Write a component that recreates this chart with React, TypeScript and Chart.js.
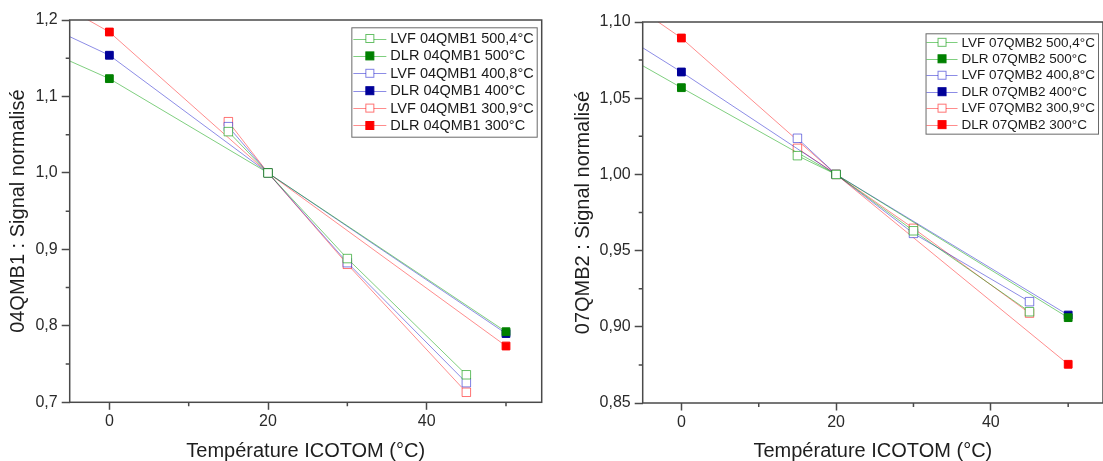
import React, { useEffect, useRef } from 'react';
import { Chart, registerables } from 'chart.js';

Chart.register(...registerables);

// ---------- data ----------
const tempLVF = [15, 20, 30, 45];
const tempDLR = [-10, 0, 20, 50];

// 04QMB1
const lvf04_500 = [1.054, 1.0, 0.888, 0.736];
const dlr04_500 = [1.1695, 1.1233, 1.0, 0.7923];
const lvf04_400 = [1.0605, 1.0, 0.8826, 0.7257];
const dlr04_400 = [1.2025, 1.1539, 1.0, 0.7900];
const lvf04_300 = [1.067, 1.0, 0.8805, 0.7131];
const dlr04_300 = [1.243, 1.1843, 1.0, 0.7736];

// 07QMB2
const lvf07_500 = [1.0123, 1.0, 0.963, 0.9099];
const dlr07_500 = [1.0857, 1.0569, 1.0, 0.906];
const lvf07_400 = [1.0237, 1.0, 0.9613, 0.9165];
const dlr07_400 = [1.099, 1.0672, 1.0, 0.9077];
const lvf07_300 = [1.0171, 1.0, 0.9646, 0.909];
const dlr07_300 = [1.1246, 1.0895, 1.0, 0.8754];

const labels04 = [
  'LVF 04QMB1 500,4°C',
  'DLR 04QMB1 500°C',
  'LVF 04QMB1 400,8°C',
  'DLR 04QMB1 400°C',
  'LVF 04QMB1 300,9°C',
  'DLR 04QMB1 300°C',
];
const labels07 = [
  'LVF 07QMB2 500,4°C',
  'DLR 07QMB2 500°C',
  'LVF 07QMB2 400,8°C',
  'DLR 07QMB2 400°C',
  'LVF 07QMB2 300,9°C',
  'DLR 07QMB2 300°C',
];

const xTicks = [0, 20, 40];
const xMinorTicks = [10, 30, 50];
const yTicks04 = [0.7, 0.8, 0.9, 1.0, 1.1, 1.2];
const yMinor04 = [0.75, 0.85, 0.95, 1.05, 1.15];
const yTicks07 = [0.85, 0.9, 0.95, 1.0, 1.05, 1.1];
const yMinor07 = [0.875, 0.925, 0.975, 1.025, 1.075];

const xTitle = 'Température ICOTOM (°C)';
const yTitle04 = '04QMB1 : Signal normalisé';
const yTitle07 = '07QMB2 : Signal normalisé';

// ---------- styles ----------
const FONT = '"Liberation Sans", Arial, sans-serif';
const AXIS = '#4a4a4a';
const styles = [
  { line: 'rgba(0,160,0,0.5)', edge: 'rgba(0,150,0,0.6)', fill: '#ffffff', r: 6 },
  { line: 'rgba(0,160,0,0.5)', edge: '#008000', fill: '#008000', r: 5.5 },
  { line: 'rgba(0,0,200,0.45)', edge: 'rgba(0,0,200,0.5)', fill: '#ffffff', r: 6 },
  { line: 'rgba(0,0,200,0.45)', edge: '#000099', fill: '#000099', r: 5.5 },
  { line: 'rgba(255,0,0,0.45)', edge: 'rgba(255,0,0,0.55)', fill: '#ffffff', r: 6 },
  { line: 'rgba(255,0,0,0.45)', edge: '#ff0000', fill: '#ff0000', r: 5.5 },
];

function buildDatasets(labels: string[], series: number[][]) {
  return series.map((ys, i) => {
    const xs = i % 2 === 0 ? tempLVF : tempDLR;
    const s = styles[i];
    return {
      label: labels[i],
      data: ys.map((y, k) => ({ x: xs[k], y })),
      borderColor: s.line,
      borderWidth: 1,
      backgroundColor: s.fill,
      pointStyle: 'rect',
      pointRadius: s.r,
      pointBorderWidth: 1,
      pointBorderColor: s.edge,
      pointBackgroundColor: s.fill,
      tension: 0,
      fill: false,
    };
  });
}

type Params = {
  labels: string[];
  series: number[][];
  yMin: number;
  yMax: number;
  yTicks: number[];
  yMinor: number[];
  decimals: number;
  yTitle: string;
  padLeft: number;
  padTop: number;
  padRight: number;
  yWidth: number;
  xHeight: number;
  yTitlePad: number;
  legendFont: number;
  legendRow: number;
  legendPad: number;
  legendLine: number;
  legendLineStart: number;
  legendRightGap: number;
  legendTopGap: number;
};

function makeDeco(p: Params) {
  return {
    id: 'deco',
    afterDraw(chart: any) {
      const { ctx, chartArea: a, scales } = chart;
      ctx.save();
      ctx.strokeStyle = AXIS;
      ctx.lineWidth = 1.5;
      ctx.strokeRect(a.left, a.top, a.right - a.left, a.bottom - a.top);
      // minor ticks
      ctx.beginPath();
      for (const v of xMinorTicks) {
        const px = scales.x.getPixelForValue(v);
        if (px > a.left && px < a.right) {
          ctx.moveTo(px, a.bottom);
          ctx.lineTo(px, a.bottom + 4);
        }
      }
      for (const v of p.yMinor) {
        const py = scales.y.getPixelForValue(v);
        ctx.moveTo(a.left, py);
        ctx.lineTo(a.left - 4, py);
      }
      ctx.stroke();

      // legend
      ctx.font = `${p.legendFont}px ${FONT}`;
      const dsets = chart.data.datasets;
      let maxW = 0;
      for (const d of dsets) maxW = Math.max(maxW, ctx.measureText(d.label).width);
      const textOff = p.legendLineStart + p.legendLine + 4;
      const boxW = textOff + maxW + 3;
      const boxH = dsets.length * p.legendRow + 2 * p.legendPad;
      const bx = a.right - p.legendRightGap - boxW;
      const by = a.top + p.legendTopGap;
      ctx.fillStyle = '#ffffff';
      ctx.fillRect(bx, by, boxW, boxH);
      ctx.strokeStyle = '#6a6a6a';
      ctx.lineWidth = 1;
      ctx.strokeRect(bx + 0.5, by + 0.5, boxW, boxH);
      dsets.forEach((d: any, i: number) => {
        const cy = by + p.legendPad + p.legendRow * (i + 0.5);
        const x0 = bx + p.legendLineStart;
        const x1 = x0 + p.legendLine;
        ctx.strokeStyle = d.borderColor;
        ctx.lineWidth = 1;
        ctx.beginPath();
        ctx.moveTo(x0, Math.round(cy) + 0.5);
        ctx.lineTo(x1, Math.round(cy) + 0.5);
        ctx.stroke();
        const cx = (x0 + x1) / 2;
        const half = 4;
        ctx.fillStyle = d.pointBackgroundColor;
        ctx.fillRect(cx - half, cy - half, 2 * half, 2 * half);
        ctx.strokeStyle = d.pointBorderColor;
        ctx.strokeRect(cx - half, cy - half, 2 * half, 2 * half);
        ctx.fillStyle = '#1a1a1a';
        ctx.textBaseline = 'middle';
        ctx.textAlign = 'left';
        ctx.fillText(d.label, bx + textOff, cy + 0.5);
      });
      ctx.restore();
    },
  };
}

function makeConfig(p: Params): any {
  return {
    type: 'line',
    data: { datasets: buildDatasets(p.labels, p.series) },
    plugins: [makeDeco(p)],
    options: {
      responsive: false,
      maintainAspectRatio: false,
      animation: false,
      devicePixelRatio: 1,
      events: [],
      layout: { padding: { left: p.padLeft, top: p.padTop, right: p.padRight, bottom: 0 } },
      plugins: { legend: { display: false }, tooltip: { enabled: false } },
      scales: {
        x: {
          type: 'linear',
          min: -5,
          max: 54.5,
          afterBuildTicks: (s: any) => {
            s.ticks = xTicks.map((v) => ({ value: v }));
          },
          afterFit: (s: any) => {
            s.height = p.xHeight;
          },
          ticks: {
            color: '#2a2a2a',
            font: { family: FONT, size: 16 },
            padding: 2,
            maxRotation: 0,
            callback: (v: any) => String(v),
          },
          grid: {
            display: true,
            drawOnChartArea: false,
            drawTicks: true,
            tickLength: 7.5,
            tickColor: AXIS,
            tickWidth: 1.5,
          },
          border: { display: false },
          title: {
            display: true,
            text: xTitle,
            color: '#1e1e1e',
            font: { family: FONT, size: 20, lineHeight: 1 },
            padding: { top: 0, bottom: 0 },
          },
        },
        y: {
          type: 'linear',
          min: p.yMin,
          max: p.yMax,
          afterBuildTicks: (s: any) => {
            s.ticks = p.yTicks.map((v) => ({ value: v }));
          },
          afterFit: (s: any) => {
            s.width = p.yWidth;
          },
          ticks: {
            color: '#2a2a2a',
            font: { family: FONT, size: 16 },
            padding: 4,
            callback: (v: any) => Number(v).toFixed(p.decimals).replace('.', ','),
          },
          grid: {
            display: true,
            drawOnChartArea: false,
            drawTicks: true,
            tickLength: 8,
            tickColor: AXIS,
            tickWidth: 1.5,
          },
          border: { display: false },
          title: {
            display: true,
            text: p.yTitle,
            color: '#1e1e1e',
            font: { family: FONT, size: 20, lineHeight: 1 },
            padding: { top: p.yTitlePad, bottom: 0 },
          },
        },
      },
    },
  };
}

const params04: Params = {
  labels: labels04,
  series: [lvf04_500, dlr04_500, lvf04_400, dlr04_400, lvf04_300, dlr04_300],
  yMin: 0.7,
  yMax: 1.2,
  yTicks: yTicks04,
  yMinor: yMinor04,
  decimals: 1,
  yTitle: yTitle04,
  padLeft: 0,
  padTop: 20,
  padRight: 8.3,
  yWidth: 69.7,
  xHeight: 58.7,
  yTitlePad: 8,
  legendFont: 14.5,
  legendRow: 17.4,
  legendPad: 2.5,
  legendLine: 33,
  legendLineStart: 2,
  legendRightGap: 5,
  legendTopGap: 7.3,
};

const params07: Params = {
  labels: labels07,
  series: [lvf07_500, dlr07_500, lvf07_400, dlr07_400, lvf07_300, dlr07_300],
  yMin: 0.85,
  yMax: 1.1,
  yTicks: yTicks07,
  yMinor: yMinor07,
  decimals: 2,
  yTitle: yTitle07,
  padLeft: 0,
  padTop: 22,
  padRight: 4,
  yWidth: 92.7,
  xHeight: 58,
  yTitlePad: 23,
  legendFont: 13.5,
  legendRow: 16.46,
  legendPad: 0.8,
  legendLine: 31,
  legendLineStart: 1,
  legendRightGap: 5,
  legendTopGap: 11.3,
};

function ChartCanvas({ params, left, width }: { params: Params; left: number; width: number }) {
  const ref = useRef<HTMLCanvasElement | null>(null);
  useEffect(() => {
    if (!ref.current) return;
    const chart = new Chart(ref.current, makeConfig(params));
    return () => chart.destroy();
  }, [params]);
  return (
    <canvas
      ref={ref}
      width={width}
      height={461}
      style={{ position: 'absolute', left, top: 0, width, height: 461 }}
    />
  );
}

export default function App() {
  return (
    <div
      style={{
        position: 'fixed',
        left: 0,
        top: 0,
        width: 1103,
        height: 461,
        overflow: 'hidden',
        background: '#ffffff',
      }}
    >
      <ChartCanvas params={params04} left={0} width={550} />
      <ChartCanvas params={params07} left={550} width={560} />
    </div>
  );
}
